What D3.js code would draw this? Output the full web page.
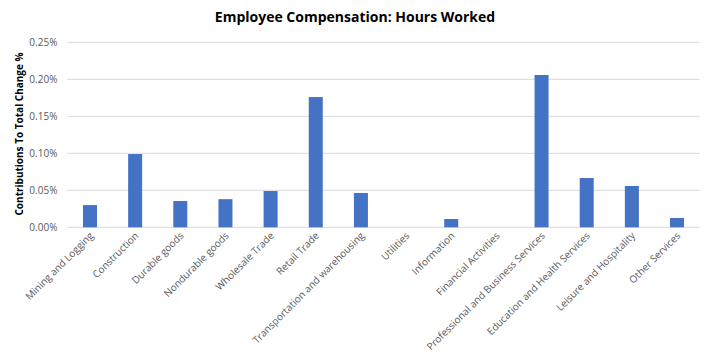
<!DOCTYPE html>
<html><head><meta charset="utf-8">
<script src="https://cdn.jsdelivr.net/npm/d3@7"></script>
<style>body{margin:0;background:#fff}svg{display:block}</style>
</head><body><div id="chart"></div>
<script>
const categories = ["Mining and Logging","Construction","Durable goods","Nondurable goods","Wholesale Trade","Retail Trade","Transportation and warehousing","Utilities","Information","Financial Activities","Professional and Business Services","Education and Health Services","Leisure and Hospitality","Other Services"];
const values = [0.030,0.099,0.0355,0.038,0.049,0.176,0.0464,0,0.0112,0,0.2058,0.0666,0.0558,0.0126];
const yTicks = [0,0.05,0.10,0.15,0.20,0.25];
const title = "Employee Compensation: Hours Worked";
const yTitle = "Contributions To Total Change %";

const W=709,H=358;
const m={left:67.4,right:9.4,top:42.3,bottom:130.7};
const svg=d3.select("#chart").append("svg").attr("width",W).attr("height",H);
const x=d3.scaleBand().domain(categories).range([m.left,W-m.right]).padding(0);
const y=d3.scaleLinear().domain([0,0.25]).range([H-m.bottom,m.top]);
const font="Open Sans, Liberation Sans, sans-serif";

svg.append("g").selectAll("line").data(yTicks).join("line")
 .attr("x1",m.left).attr("x2",W-m.right)
 .attr("y1",d=>y(d)).attr("y2",d=>y(d))
 .attr("stroke","#d9d9d9").attr("stroke-width",1);

const bw=14;
svg.append("g").selectAll("rect").data(values).join("rect")
 .attr("x",(d,i)=>x(categories[i])+x.bandwidth()/2-bw/2)
 .attr("width",bw)
 .attr("y",d=>y(d)).attr("height",d=>y(0)-y(d))
 .attr("fill","#4472c4");

const yAxis=svg.append("g").attr("transform",`translate(${m.left-10},0)`)
 .call(d3.axisLeft(y).tickValues(yTicks).tickFormat(d=>d.toFixed(2)+"%").tickSize(0).tickPadding(0));
yAxis.select(".domain").remove();
yAxis.selectAll("text").attr("fill","#595959").style("font-family",font).style("font-size","10px");

const xAxis=svg.append("g").attr("transform",`translate(0,${y(0)})`)
 .call(d3.axisBottom(x).tickSize(0).tickPadding(0));
xAxis.select(".domain").remove();
xAxis.selectAll("text")
 .attr("fill","#595959").style("font-family",font).style("font-size","10px")
 .attr("text-anchor","end").attr("dy",0).attr("y",0)
 .attr("transform","translate(4,9) rotate(-45)");

svg.append("text").attr("x",355).attr("y",22).attr("text-anchor","middle")
 .style("font-family",font).style("font-size","14px").style("font-weight","bold").attr("fill","#000").text(title);

svg.append("text").attr("transform",`translate(23,134) rotate(-90)`)
 .attr("text-anchor","middle").attr("textLength",163).attr("lengthAdjust","spacingAndGlyphs")
 .style("font-family",font).style("font-size","11px").style("font-weight","bold").attr("fill","#000").text(yTitle);
</script></body></html>
